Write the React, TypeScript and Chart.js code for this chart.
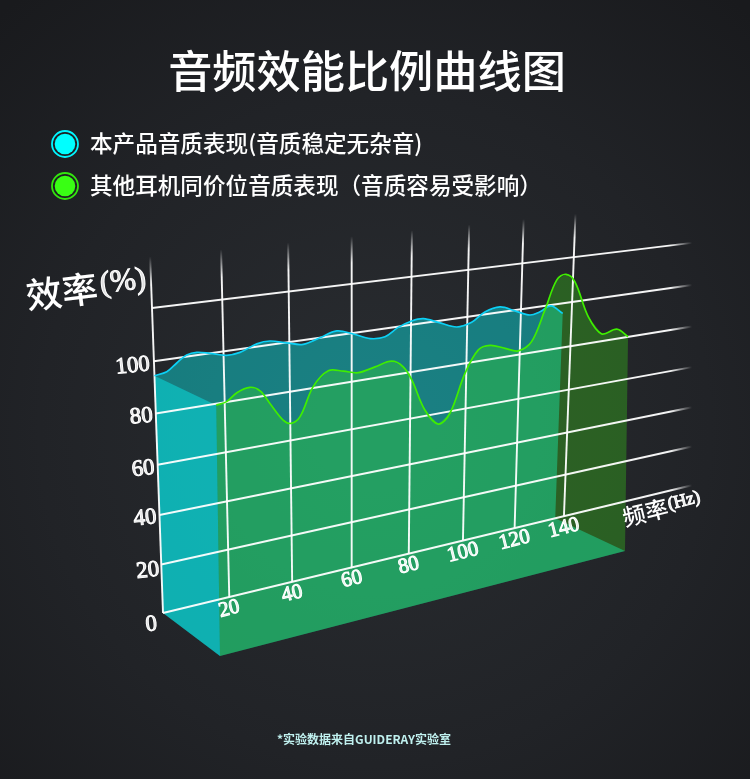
import React, { useEffect, useRef } from "react";
import { Chart, registerables } from "chart.js";
Chart.register(...registerables);

const titleText = "音频效能比例曲线图";
const footnote = "*实验数据来自GUIDERAY实验室";
const productLabel = "本产品音质表现(音质稳定无杂音)";
const otherLabel = "其他耳机同价位音质表现（音质容易受影响）";

const hzTicks = [20, 40, 60, 80, 100, 120, 140];
const effTicks = [0, 20, 40, 60, 80, 100];
const effGrid = [0, 20, 40, 60, 80, 100, 120];

const productHz = [0, 3.5, 6.4, 9.3, 12.2, 16, 20.9, 24.9, 30, 34,
  39.2, 44.3, 49.7, 55.1, 60.5, 66.1, 71.1, 75.6, 80.2, 84.3,
  89.6, 96.2, 101.6, 106.4, 112, 117.7, 123.5, 127.4, 131.6, 136.4];
const productEff = [94.5, 95.3, 98.1, 100.6, 101.1, 100, 98.3, 98.7, 101.1, 101.5,
  99.8, 98.3, 100, 101.8, 99.6, 96.7, 96.6, 99.7, 101.6, 101.9,
  99.4, 96.3, 97.4, 101, 102.3, 99.7, 96.9, 97.7, 99.6, 95.5];
const otherHz = [0, 2.9, 5.8, 9.5, 12.4, 15.2, 19, 21.3, 24, 28,
  32.6, 37.2, 41.8, 47.1, 52.4, 56.1, 58.9, 63.2, 67.7, 71.6,
  76.7, 81.3, 85.4, 90.7, 95.4, 100.2, 105, 109.3, 112.7, 116.1,
  121.3, 126.6, 132.5, 137];
const otherEff = [90.1, 90.8, 93.4, 94.6, 92.8, 87.7, 80.9, 79.2, 81.1, 91.3,
  96.3, 95.3, 93.9, 95.1, 96.3, 93.5, 88, 75.6, 69.2, 72.6,
  87.2, 95.6, 96.7, 94.6, 92.8, 95.7, 107.7, 119.2, 121, 117.5,
  102.5, 94.5, 95.5, 91.6];

const HZ_BACK = 197, HZ_FRONT = 137, EFF_SPAN = 120, HZ_PANEL = 136.4, EFF_TOP = 139;
const WIDTH = 750, HEIGHT = 779, GRID_END_X = 692;

type H = ReturnType<typeof homography>;
function homography(p: number[][], spanU: number, spanW: number) {
  const [p0, p1, p2, p3] = p;
  const dx1 = p1[0] - p2[0], dx2 = p3[0] - p2[0], sx = p0[0] - p1[0] + p2[0] - p3[0];
  const dy1 = p1[1] - p2[1], dy2 = p3[1] - p2[1], sy = p0[1] - p1[1] + p2[1] - p3[1];
  const den = dx1 * dy2 - dx2 * dy1;
  const g = (sx * dy2 - dx2 * sy) / den, h = (dx1 * sy - sx * dy1) / den;
  return {
    a: p1[0] - p0[0] + g * p1[0], b: p3[0] - p0[0] + h * p3[0], c: p0[0],
    d: p1[1] - p0[1] + g * p1[1], e: p3[1] - p0[1] + h * p3[1], f: p0[1],
    g, h, spanU, spanW,
  };
}
const backPlane = homography([[163, 613], [693, 485], [708, 241], [152, 308]], HZ_BACK, EFF_SPAN);
const frontPlane = homography([[220, 656], [625, 551], [629, 269], [215, 320]], HZ_FRONT, EFF_SPAN);
function project(P: H, hz: number, eff: number) {
  const u = hz / P.spanU, w = eff / P.spanW, q = P.g * u + P.h * w + 1;
  return { x: (P.a * u + P.b * w + P.c) / q, y: (P.d * u + P.e * w + P.f) / q };
}
function hzAtX(P: H, X: number, eff: number) {
  const w = eff / P.spanW;
  return ((X * (P.h * w + 1) - P.b * w - P.c) / (P.a - X * P.g)) * P.spanU;
}
const trace = (P: H, hz: number[], eff: number[]) => hz.map((f, i) => project(P, f, eff[i]));

function fading(from: { x: number; y: number }, to: { x: number; y: number }, stop: number) {
  return (c: any) => {
    const { x, y } = c.chart.scales;
    const toPx = (p: { x: number; y: number }) => {
      const px = x ? x.getPixelForValue(p.x) : NaN, py = y ? y.getPixelForValue(p.y) : NaN;
      return Number.isFinite(px) && Number.isFinite(py) ? [px, py] : [p.x, p.y];
    };
    const [x0, y0] = toPx(from), [x1, y1] = toPx(to);
    const g = c.chart.ctx.createLinearGradient(x0, y0, x1, y1);
    g.addColorStop(0, "rgba(255,255,255,0.95)");
    g.addColorStop(stop, "rgba(255,255,255,0.95)");
    g.addColorStop(1, "rgba(255,255,255,0)");
    return g;
  };
}
const gridLine = (a: any, b: any, stop: number) => ({
  label: "grid", data: [a, b], borderColor: fading(a, b, stop), borderWidth: 1.9, pointRadius: 0, fill: false, tension: 0,
});
const panel = (label: string, data: any[], color: string) => ({
  label, data, backgroundColor: color, borderWidth: 0, borderColor: "transparent", pointRadius: 0, fill: "shape", tension: 0,
});
const curve = (label: string, data: any[], color: string) => ({
  label, data, borderColor: color, borderWidth: 1.7, pointRadius: 0, fill: false, tension: 0.35,
});

const CYAN_FILL = "rgba(5,255,255,0.4)";
const GREEN_FILL = "rgba(62,237,22,0.29)";

function buildDatasets() {
  const cyanPts = trace(backPlane, productHz, productEff);
  const greenPts = trace(frontPlane, otherHz, otherEff);
  const backWall = [...cyanPts, project(backPlane, HZ_PANEL, 0), project(backPlane, 0, 0)];
  const sideWall = [project(backPlane, 0, productEff[0]), project(frontPlane, 0, otherEff[0]), project(frontPlane, 0, 0), project(backPlane, 0, 0)];
  const floor = [project(backPlane, 0, 0), project(backPlane, HZ_PANEL, 0), project(frontPlane, HZ_FRONT, 0), project(frontPlane, 0, 0)];
  const frontWall = [...greenPts, project(frontPlane, HZ_FRONT, 0), project(frontPlane, 0, 0)];
  const hGrid = effGrid.map((v) => gridLine(project(backPlane, 0, v), project(backPlane, hzAtX(backPlane, GRID_END_X, v), v), 0.96));
  const vGrid = [0, ...hzTicks].map((f) => gridLine(project(backPlane, f, 0), project(backPlane, f, EFF_TOP), 0.92));
  return [
    curve(otherLabel, greenPts, "#3fee00"),
    curve(productLabel, cyanPts, "#0cd0f5"),
    ...hGrid, ...vGrid,
    panel("front", frontWall, GREEN_FILL),
    panel("floor", floor, CYAN_FILL),
    panel("side", sideWall, CYAN_FILL),
    panel("back", backWall, CYAN_FILL),
  ];
}

const backdrop = {
  id: "backdrop",
  beforeDraw(chart: any) {
    const { ctx, width, height } = chart;
    const g = ctx.createRadialGradient(375, 430, 60, 375, 430, 560);
    g.addColorStop(0, "#282b2f");
    g.addColorStop(0.55, "#212327");
    g.addColorStop(1, "#191a1d");
    ctx.save();
    ctx.fillStyle = g;
    ctx.fillRect(0, 0, width, height);
    ctx.restore();
  },
};

const CJK = '"Noto Sans CJK SC"';
const SERIF = '"Liberation Serif"';

function tilted(ctx: any, text: string, x: number, y: number, deg: number, font: string, align: CanvasTextAlign, hollow = true) {
  ctx.save();
  ctx.translate(x, y);
  ctx.rotate((deg * Math.PI) / 180);
  ctx.font = font;
  ctx.textAlign = align;
  ctx.textBaseline = "middle";
  if (hollow) {
    ctx.fillStyle = "rgba(255,255,255,0.85)";
    ctx.fillText(text, 0, 0);
    ctx.lineWidth = 1;
    ctx.strokeStyle = "#ffffff";
    ctx.strokeText(text, 0, 0);
  } else {
    ctx.fillStyle = "#ffffff";
    ctx.fillText(text, 0, 0);
  }
  ctx.restore();
}

const labelNudge: Record<number, number[]> = { 0: [-6, 11], 20: [-2, 5], 40: [-3, 2], 60: [-3, 3], 80: [-3, 2], 100: [-4, 3] };

const annotations = {
  id: "annotations",
  afterDraw(chart: any) {
    const { ctx, scales } = chart;
    const px = (p: { x: number; y: number }) => ({ x: scales.x.getPixelForValue(p.x), y: scales.y.getPixelForValue(p.y) });
    ctx.save();
    ctx.textBaseline = "alphabetic";
    ctx.fillStyle = "#ffffff";
    ctx.textAlign = "center";
    ctx.font = `500 44.2px ${CJK}`;
    ctx.fillText(titleText, 367, 88);

    const rows: [string, string, string, number][] = [
      [productLabel, "#00f6ff", "#00ffff", 144],
      [otherLabel, "#33e60e", "#39ff14", 186],
    ];
    rows.forEach(([text, ring, dot, y]) => {
      ctx.beginPath(); ctx.arc(65, y, 13, 0, Math.PI * 2);
      ctx.strokeStyle = ring; ctx.lineWidth = 1.8; ctx.stroke();
      ctx.beginPath(); ctx.arc(65, y, 10.3, 0, Math.PI * 2);
      ctx.fillStyle = dot; ctx.fill();
      ctx.fillStyle = "#ffffff";
      ctx.textAlign = "left";
      ctx.font = `500 22.6px ${CJK}`;
      ctx.fillText(text, 90, y + 8);
    });

    ctx.textAlign = "center";
    ctx.font = `700 12px ${CJK}`;
    ctx.fillStyle = "#bff0ee";
    ctx.fillText(footnote, 364, 744);
    ctx.restore();

    effTicks.forEach((v) => {
      const p = px(project(backPlane, 0, v));
      const [dx, dy] = labelNudge[v];
      tilted(ctx, String(v), p.x + dx, p.y + dy, -6, `23px ${SERIF}`, "right");
    });
    hzTicks.forEach((f) => {
      const p = px(project(backPlane, f, 0));
      tilted(ctx, String(f), p.x, p.y + 12, -14, `21px ${SERIF}`, "center");
    });
    tilted(ctx, "效率", 26, 296, -7, `500 36px ${CJK}`, "left", false);
    tilted(ctx, "(%)", 100, 285, -7, `31px ${SERIF}`, "left");
    tilted(ctx, "频率", 623, 518, -14, `500 23px ${CJK}`, "left", false);
    tilted(ctx, "(Hz)", 668, 505, -14, `18px ${SERIF}`, "left");
  },
};

export default function App() {
  const ref = useRef<HTMLCanvasElement>(null);
  useEffect(() => {
    const chart = new Chart(ref.current!, {
      type: "line",
      data: { datasets: buildDatasets() as any },
      plugins: [backdrop, annotations],
      options: {
        animation: false,
        responsive: false,
        devicePixelRatio: 1,
        layout: { padding: 0 },
        scales: {
          x: { type: "linear", min: 0, max: WIDTH, display: false },
          y: { type: "linear", min: 0, max: HEIGHT, reverse: true, display: false },
        },
        plugins: { legend: { display: false }, tooltip: { enabled: false }, title: { display: false } },
      },
    });
    return () => chart.destroy();
  }, []);
  return (
    <div style={{ position: "absolute", left: 0, top: 0, width: WIDTH, height: HEIGHT, overflow: "hidden" }}>
      <canvas ref={ref} width={WIDTH} height={HEIGHT} style={{ display: "block" }} />
    </div>
  );
}
